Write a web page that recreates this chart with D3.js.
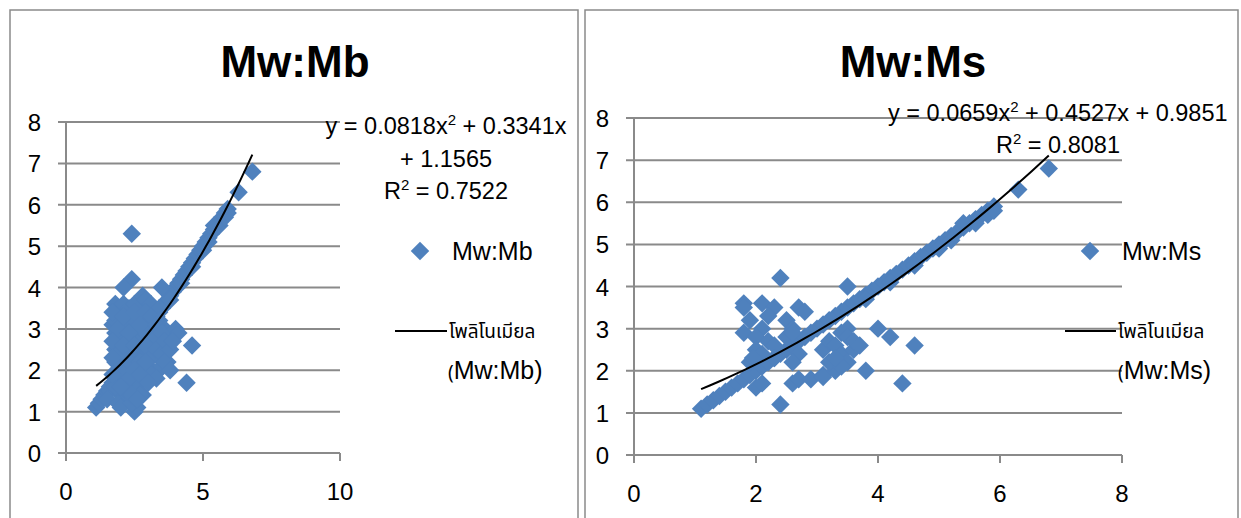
<!DOCTYPE html>
<html>
<head>
<meta charset="utf-8">
<script src="https://cdn.jsdelivr.net/npm/d3@7"></script>
<style>
  body { margin: 0; background: #fff; }
  .tick-label { font-family: "Liberation Sans", Arial, sans-serif; font-size: 24px; fill: #000; }
  .eq { font-family: "Liberation Sans", Arial, sans-serif; font-size: 23.5px; fill: #000; }
  .title { font-family: "Liberation Sans", Arial, sans-serif; font-weight: bold; font-size: 44px; fill: #000; }
  .legend { font-family: "Liberation Sans", Arial, sans-serif; font-size: 25px; fill: #000; }
  .thai { font-family: "Noto Sans Thai", "Noto Sans", "DejaVu Sans", sans-serif; font-size: 19px; fill: #000; }
</style>
</head>
<body>
<script>
// magnitudes on the 1:1 band (same in both charts)
const bandPoints = [
  [1.1,1.1],[1.2,1.2],[1.3,1.3],[1.4,1.4],[1.5,1.5],[1.6,1.6],[1.7,1.7],[1.8,1.8],[1.9,1.9],[2.0,2.0],
  [2.1,2.1],[2.2,2.2],[2.3,2.3],[2.4,2.4],[2.5,2.5],[2.6,2.6],[2.7,2.7],[2.8,2.8],[2.9,2.9],[3.0,3.0],
  [3.1,3.1],[3.2,3.2],[3.3,3.3],[3.4,3.4],[3.5,3.5],[3.6,3.6],[3.7,3.7],[3.8,3.8],[3.9,3.9],[4.0,4.0],
  [4.1,4.1],[4.2,4.2],[4.3,4.3],[4.4,4.4],[4.5,4.5],[4.6,4.6],[4.7,4.7],[4.8,4.8],[4.9,4.9],[5.0,5.0],
  [5.1,5.1],[5.2,5.2],[5.3,5.3],[5.4,5.4],[5.5,5.5],[5.6,5.6],[5.7,5.7],[5.8,5.8],[5.9,5.9],[6.3,6.3],
  [6.8,6.8],[3.8,3.7],[4.2,4.1],[4.6,4.5],[5.0,4.9],[5.2,5.1],[5.6,5.5],[5.8,5.7],[5.9,5.8],[5.4,5.5]
];

// Mb (x) vs Mw (y), points off the band
const mbPoints = [
  [1.8,3.6],[1.9,3.5],[2.0,3.4],[2.1,3.6],[2.3,3.5],[2.5,3.6],[2.7,3.5],[2.8,3.8],[2.9,3.7],[3.1,3.6],[3.3,3.4],[3.4,3.5],
  [1.7,3.1],[1.8,3.2],[2.0,3.0],[2.2,3.1],[2.4,3.2],[2.6,3.0],[2.8,3.2],[3.0,3.1],[3.2,3.0],[3.4,3.2],[3.6,3.0],
  [1.8,2.9],[1.9,2.7],[2.1,2.8],[2.3,2.6],[2.5,2.8],[2.7,2.7],[2.9,2.9],[3.1,2.7],[3.3,2.8],[3.5,2.6],[3.7,2.8],
  [1.8,2.5],[2.0,2.4],[2.2,2.3],[2.4,2.5],[2.6,2.4],[2.8,2.3],[3.0,2.5],[3.2,2.4],[3.4,2.3],[3.6,2.4],[3.7,2.2],
  [1.8,2.2],[2.0,2.0],[2.2,2.1],[2.4,1.9],[2.6,2.1],[2.8,2.0],[3.0,2.1],[3.2,1.9],[3.4,2.0],[3.5,2.1],
  [1.9,1.8],[2.1,1.7],[2.3,1.6],[2.5,1.8],[2.7,1.7],[2.9,1.8],[3.1,1.9],
  [1.6,1.5],[2.0,1.4],[2.2,1.3],[2.6,1.5],[2.8,1.4],[2.7,1.4],
  [1.5,1.3],[1.9,1.2],[2.0,1.1],[2.5,1.0],[2.6,1.1],[2.4,1.2],
  [1.7,3.4],[1.9,3.0],[2.1,3.3],[2.3,2.9],[2.5,3.4],[2.7,3.1],[2.9,3.4],[3.1,3.3],[3.3,3.1],[3.5,2.9],
  [1.7,2.7],[1.9,2.4],[2.1,2.6],[2.3,2.2],[2.5,2.6],[2.7,2.2],[2.9,2.6],[3.1,2.3],[3.3,2.5],[3.5,2.4],
  [1.7,2.3],[1.9,2.0],[2.1,1.9],[2.3,1.8],[2.5,2.0],[2.7,1.9],[2.9,2.2],[3.3,1.8],[1.8,1.6],[2.2,1.5],
  [2.4,1.4],[2.0,1.6],[1.7,1.9],[3.6,2.7],[3.0,1.7],[2.6,1.3],[3.8,2.5],[3.6,2.2],
  [2.4,5.3],[2.4,4.2],[2.1,4.0],[3.5,4.0],[4.0,3.0],[4.1,2.9],[4.6,2.6],[4.4,1.7],[3.8,2.0],[3.9,2.7]
];

// Ms (x) vs Mw (y), points off the band
const msPoints = [
  [2.4,4.2],[3.5,4.0],[1.8,3.6],[2.1,3.6],[2.3,3.5],[2.7,3.5],[2.8,3.4],[1.8,3.5],[2.2,3.3],[1.9,3.2],
  [2.5,3.2],[2.1,3.0],[2.6,3.0],[1.8,2.9],[2.0,2.8],[2.2,2.7],[2.5,2.8],[2.3,2.6],[1.9,2.2],[2.0,2.5],
  [2.1,2.4],[2.3,2.3],[2.7,2.4],[2.6,2.2],[2.0,1.6],[2.1,1.7],[2.6,1.7],[2.7,1.8],[2.9,1.8],[3.1,1.9],
  [3.3,2.0],[3.2,2.2],[3.1,2.5],[3.2,2.7],[3.3,2.6],[3.4,2.4],[3.4,2.9],[3.5,3.0],[3.5,2.8],[3.5,2.2],
  [3.6,2.5],[3.6,2.7],[3.7,2.6],[3.4,2.1],[3.3,2.3],[4.0,3.0],[4.2,2.8],[4.6,2.6],[3.8,2.0],[4.4,1.7],
  [2.4,1.2],[1.95,2.3],[2.6,2.9],[3.1,1.85]
];

// polynomial trendline coefficients [a, b, c] for y = a x^2 + b x + c
const mbCoef = [0.0818, 0.3341, 1.1565];
const msCoef = [0.0659, 0.4527, 0.9851];

const yTicks = [0, 1, 2, 3, 4, 5, 6, 7, 8];
const mbXTicks = [0, 5, 10];
const msXTicks = [0, 2, 4, 6, 8];

const markerColor = "#4F81BD",
    gridColor = "#8a8a8a";

const svg = d3.select("body").append("svg")
    .attr("width", 1241)
    .attr("height", 518);

// chart frames
svg.append("rect").attr("x", 10).attr("y", 10).attr("width", 568).attr("height", 520)
    .attr("fill", "none").attr("stroke", gridColor).attr("stroke-width", 1.5);
svg.append("rect").attr("x", 585).attr("y", 10).attr("width", 653).attr("height", 520)
    .attr("fill", "none").attr("stroke", gridColor).attr("stroke-width", 1.5);

function drawChart(opt) {
    const g = svg.append("g");
    const x = d3.scaleLinear().domain(opt.xDomain).range(opt.xRange);
    const y = d3.scaleLinear().domain([0, 8]).range(opt.yRange);
    const x0 = opt.xRange[0], x1 = opt.xRange[1];

    // gridlines + left ticks
    g.selectAll(".grid").data(yTicks).join("line")
        .attr("x1", x0 - 8).attr("x2", x1)
        .attr("y1", d => y(d)).attr("y2", d => y(d))
        .attr("stroke", gridColor).attr("stroke-width", 2);
    // y axis
    g.append("line").attr("x1", x0).attr("x2", x0)
        .attr("y1", y(8)).attr("y2", y(0) + 8)
        .attr("stroke", gridColor).attr("stroke-width", 2);
    // x ticks
    g.selectAll(".xt").data(opt.xTicks).join("line")
        .attr("x1", d => x(d)).attr("x2", d => x(d))
        .attr("y1", y(0)).attr("y2", y(0) + 8)
        .attr("stroke", gridColor).attr("stroke-width", 2);

    g.selectAll(".yl").data(yTicks).join("text")
        .attr("class", "tick-label")
        .attr("text-anchor", "end")
        .attr("x", x0 - 25).attr("y", d => y(d) + 9)
        .text(d => d);
    g.selectAll(".xl").data(opt.xTicks).join("text")
        .attr("class", "tick-label")
        .attr("text-anchor", "middle")
        .attr("x", d => x(d)).attr("y", y(0) + 47)
        .text(d => d);

    // title
    g.append("text").attr("class", "title")
        .attr("text-anchor", "middle")
        .attr("x", opt.titleX).attr("y", 77)
        .text(opt.title);

    // markers
    const diamond = d3.symbol(d3.symbolSquare, 170);
    const pts = bandPoints.concat(opt.points);
    g.selectAll(".pt").data(pts).join("path")
        .attr("d", diamond)
        .attr("transform", d => `translate(${x(d[0])},${y(d[1])}) rotate(45)`)
        .attr("fill", markerColor);

    // trendline
    const [a, b, c] = opt.coef;
    const xExt = d3.extent(pts, d => d[0]);
    const curve = d3.range(0, 41).map(i => {
        const xv = xExt[0] + (xExt[1] - xExt[0]) * i / 40;
        return [xv, a * xv * xv + b * xv + c];
    });
    g.append("path").datum(curve)
        .attr("d", d3.line().x(d => x(d[0])).y(d => y(d[1])))
        .attr("fill", "none").attr("stroke", "#000").attr("stroke-width", 2);

    // equation label
    opt.eqLines.forEach(t => {
        g.append("text").attr("class", "eq")
            .attr("text-anchor", t.anchor || "middle")
            .attr("x", t.x).attr("y", t.y)
            .html(t.html);
    });

    // legend
    g.append("path").attr("d", diamond)
        .attr("transform", `translate(${opt.leg.dx},251) rotate(45)`)
        .attr("fill", markerColor);
    g.append("text").attr("class", "legend")
        .attr("x", opt.leg.tx).attr("y", 260).text(opt.title);
    g.append("line").attr("x1", opt.leg.lx0).attr("x2", opt.leg.lx1)
        .attr("y1", 331).attr("y2", 331)
        .attr("stroke", "#000").attr("stroke-width", 2);
    g.append("text").attr("class", "thai")
        .attr("x", opt.leg.lx1 + 2).attr("y", 338).text("โพลิโนเมียล");
    const t2 = g.append("text").attr("x", opt.leg.tx - 4).attr("y", 379);
    t2.append("tspan").attr("class", "thai").text("(");
    t2.append("tspan").attr("class", "legend").text(opt.title + ")");
}

const sup = "<tspan dy='-9' font-size='15'>2</tspan>";

drawChart({
    title: "Mw:Mb", titleX: 295,
    xDomain: [0, 10], xRange: [66, 340], yRange: [453, 122],
    xTicks: mbXTicks, points: mbPoints, coef: mbCoef,
    eqLines: [
        { x: 446, y: 134, html: `y = 0.0818x${sup}<tspan dy='9'> + 0.3341x</tspan>` },
        { x: 446, y: 167, html: "+ 1.1565" },
        { x: 446, y: 199, html: `R${sup}<tspan dy='9'> = 0.7522</tspan>` }
    ],
    leg: { dx: 420, tx: 452, lx0: 395, lx1: 447 }
});

drawChart({
    title: "Mw:Ms", titleX: 913,
    xDomain: [0, 8], xRange: [634, 1122], yRange: [455, 118],
    xTicks: msXTicks, points: msPoints, coef: msCoef,
    eqLines: [
        { x: 888, y: 121, anchor: "start", html: `y = 0.0659x${sup}<tspan dy='9'> + 0.4527x + 0.9851</tspan>` },
        { x: 1058, y: 153, html: `R${sup}<tspan dy='9'> = 0.8081</tspan>` }
    ],
    leg: { dx: 1090, tx: 1122, lx0: 1065, lx1: 1116 }
});
</script>
</body>
</html>
